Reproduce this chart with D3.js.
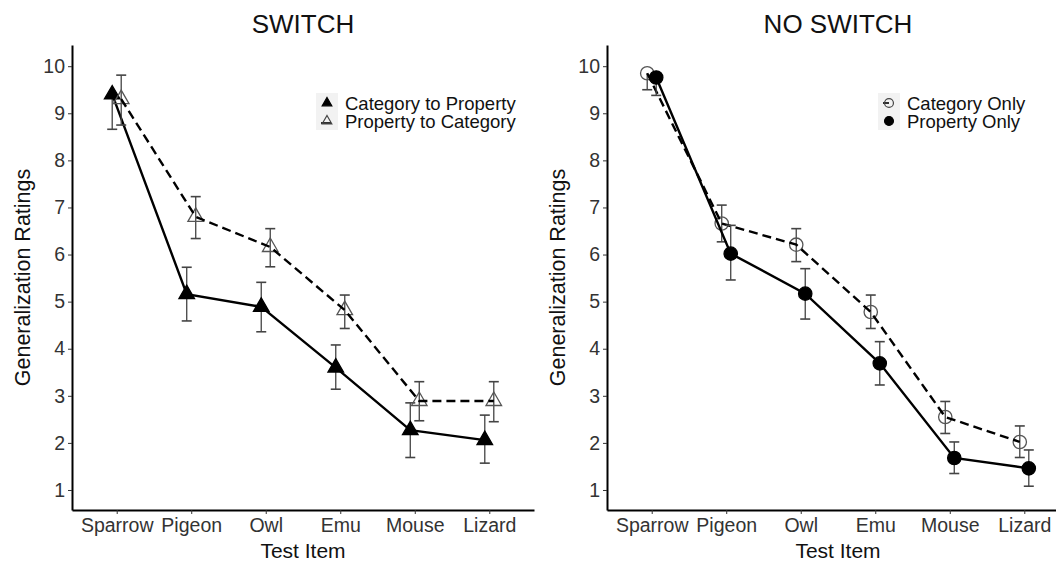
<!DOCTYPE html>
<html lang="en">
<head>
    <meta charset="utf-8">
    <title>Generalization Ratings</title>
    <script type="text/javascript" src="https://cdn.jsdelivr.net/npm/d3@7/dist/d3.min.js"></script>
    <style>
        body {
            margin: 0;
            background: white;
        }
        svg {
            display: block;
            font-family: "Liberation Sans", Arial, sans-serif;
        }
        .axis path.domain {
            stroke: black;
            stroke-width: 2px;
        }
        .axis line {
            stroke: #333;
        }
        .axis text {
            fill: #333;
            font-size: 19.5px;
            font-family: "Liberation Sans", Arial, sans-serif;
        }
    </style>
</head>
<body>
    <svg width="1056" height="564"></svg>

    <script type="text/javascript">
        // data
        var items = ["Sparrow", "Pigeon", "Owl", "Emu", "Mouse", "Lizard"];
        var yTicks = [1, 2, 3, 4, 5, 6, 7, 8, 9, 10];

        // SWITCH panel
        var catToProp = [9.40, 5.16, 4.89, 3.60, 2.27, 2.06];
        var catToPropLo = [8.66, 4.59, 4.36, 3.14, 1.69, 1.57];
        var catToPropHi = [null, 5.73, 5.41, 4.08, 2.85, 2.59];
        var propToCat = [9.30, 6.80, 6.16, 4.82, 2.89, 2.89];
        var propToCatLo = [8.75, 6.34, 5.74, 4.43, 2.47, 2.45];
        var propToCatHi = [9.81, 7.23, 6.55, 5.14, 3.30, 3.30];

        // NO SWITCH panel
        var catOnly = [9.85, 6.66, 6.21, 4.78, 2.55, 2.02];
        var catOnlyLo = [9.50, 6.27, 5.85, 4.43, 2.20, 1.69];
        var catOnlyHi = [null, 7.05, 6.55, 5.14, 2.88, 2.36];
        var propOnly = [9.76, 6.02, 5.17, 3.69, 1.68, 1.46];
        var propOnlyLo = [9.38, 5.46, 4.63, 3.23, 1.35, 1.08];
        var propOnlyHi = [null, 6.62, 5.70, 4.15, 2.02, 1.85];

        var svg = d3.select("svg");
        var top_y = 45, bottom_y = 510, plot_w = 462;

        var y = d3.scaleLinear().domain([0.575, 10.45]).range([bottom_y, top_y]);

        function makeSeries(mean, lo, hi) {
            return items.map(function (d, i) {
                return { item: d, v: mean[i], lo: lo[i], hi: hi[i] };
            });
        }

        function drawPanel(left, title, series, legendX) {
            var x = d3.scalePoint().domain(items).range([left, left + plot_w]).padding(0.6);
            var g = svg.append("g");

            // axes
            g.append("g")
                .attr("class", "axis")
                .attr("transform", "translate(" + left + ",0)")
                .call(d3.axisLeft(y).tickValues(yTicks).tickSize(4).tickSizeOuter(0).tickPadding(3));
            g.append("g")
                .attr("class", "axis")
                .attr("transform", "translate(0," + bottom_y + ")")
                .call(d3.axisBottom(x).tickSize(4).tickSizeOuter(0).tickPadding(4));

            // titles
            g.append("text")
                .attr("x", left + plot_w / 2)
                .attr("y", 33)
                .attr("text-anchor", "middle")
                .attr("font-size", 26)
                .attr("fill", "#111")
                .text(title);
            g.append("text")
                .attr("x", left + plot_w / 2)
                .attr("y", 558)
                .attr("text-anchor", "middle")
                .attr("font-size", 21)
                .attr("fill", "#111")
                .text("Test Item");
            g.append("text")
                .attr("transform", "translate(" + (left - 42) + "," + ((top_y + bottom_y) / 2) + ") rotate(-90)")
                .attr("text-anchor", "middle")
                .attr("font-size", 21.5)
                .attr("fill", "#111")
                .text("Generalization Ratings");

            series.forEach(function (s) {
                var px = function (d) { return x(d.item) + s.dx; };

                // error bars
                var eb = g.append("g").selectAll("g.eb")
                    .data(s.data)
                    .enter()
                    .append("g");
                eb.append("line")
                    .attr("x1", px).attr("x2", px)
                    .attr("y1", function (d) { return y(d.hi == null ? d.v : d.hi); })
                    .attr("y2", function (d) { return y(d.lo); })
                    .attr("stroke", "#444").attr("stroke-width", 1.3);
                eb.filter(function (d) { return d.hi != null; })
                    .append("line")
                    .attr("x1", function (d) { return px(d) - 5; })
                    .attr("x2", function (d) { return px(d) + 5; })
                    .attr("y1", function (d) { return y(d.hi); })
                    .attr("y2", function (d) { return y(d.hi); })
                    .attr("stroke", "#444").attr("stroke-width", 1.6);
                eb.append("line")
                    .attr("x1", function (d) { return px(d) - 5; })
                    .attr("x2", function (d) { return px(d) + 5; })
                    .attr("y1", function (d) { return y(d.lo); })
                    .attr("y2", function (d) { return y(d.lo); })
                    .attr("stroke", "#444").attr("stroke-width", 1.6);

                // points
                var sym = d3.symbol().type(s.shape).size(s.shape == d3.symbolTriangle ? 105 : 140);
                g.append("g").selectAll("path")
                    .data(s.data)
                    .enter()
                    .append("path")
                    .attr("d", sym)
                    .attr("transform", function (d) { return "translate(" + px(d) + "," + y(d.v) + ")"; })
                    .attr("fill", s.filled ? "black" : "none")
                    .attr("stroke", s.filled ? "black" : "#555")
                    .attr("stroke-width", 1.3);

                // line
                var line = d3.line().x(px).y(function (d) { return y(d.v); });
                g.append("path")
                    .datum(s.data)
                    .attr("d", line)
                    .attr("fill", "none")
                    .attr("stroke", "black")
                    .attr("stroke-width", 2.4)
                    .attr("stroke-dasharray", s.dashed ? "9,5" : null);
            });

            // legend
            var lg = g.append("g").attr("transform", "translate(" + legendX + ",0)");
            lg.append("rect")
                .attr("x", -11).attr("y", 93)
                .attr("width", 22).attr("height", 37)
                .attr("fill", "#f2f2f2");
            var s_order = series.slice().sort(function (a, b) { return a.legendRow - b.legendRow; });
            s_order.forEach(function (s, i) {
                var cy = 103 + i * 18;
                var small = d3.symbol().type(s.shape).size(s.shape == d3.symbolTriangle ? 40 : 62);
                if (!s.filled) {
                    lg.append("line")
                        .attr("x1", -6).attr("x2", s.shape == d3.symbolTriangle ? 4 : 0)
                        .attr("y1", s.shape == d3.symbolTriangle ? cy + 2 : cy)
                        .attr("y2", s.shape == d3.symbolTriangle ? cy + 2 : cy)
                        .attr("stroke", "black").attr("stroke-width", 1.6);
                }
                lg.append("path")
                    .attr("d", small)
                    .attr("transform", "translate(0," + cy + ")")
                    .attr("fill", s.filled ? "black" : "none")
                    .attr("stroke", s.filled ? "black" : "#444")
                    .attr("stroke-width", 1.2);
                lg.append("text")
                    .attr("x", 18)
                    .attr("y", cy + 7)
                    .attr("font-size", 18.5)
                    .attr("fill", "#111")
                    .text(s.name);
            });
        }

        drawPanel(72, "SWITCH", [
            { name: "Category to Property", data: makeSeries(catToProp, catToPropLo, catToPropHi), dx: -4.5, shape: d3.symbolTriangle, filled: true, dashed: false, legendRow: 0 },
            { name: "Property to Category", data: makeSeries(propToCat, propToCatLo, propToCatHi), dx: 4.5, shape: d3.symbolTriangle, filled: false, dashed: true, legendRow: 1 }
        ], 327);

        drawPanel(607, "NO SWITCH", [
            { name: "Category Only", data: makeSeries(catOnly, catOnlyLo, catOnlyHi), dx: -4.5, shape: d3.symbolCircle, filled: false, dashed: true, legendRow: 0 },
            { name: "Property Only", data: makeSeries(propOnly, propOnlyLo, propOnlyHi), dx: 4.5, shape: d3.symbolCircle, filled: true, dashed: false, legendRow: 1 }
        ], 889);
    </script>
</body>
</html>
